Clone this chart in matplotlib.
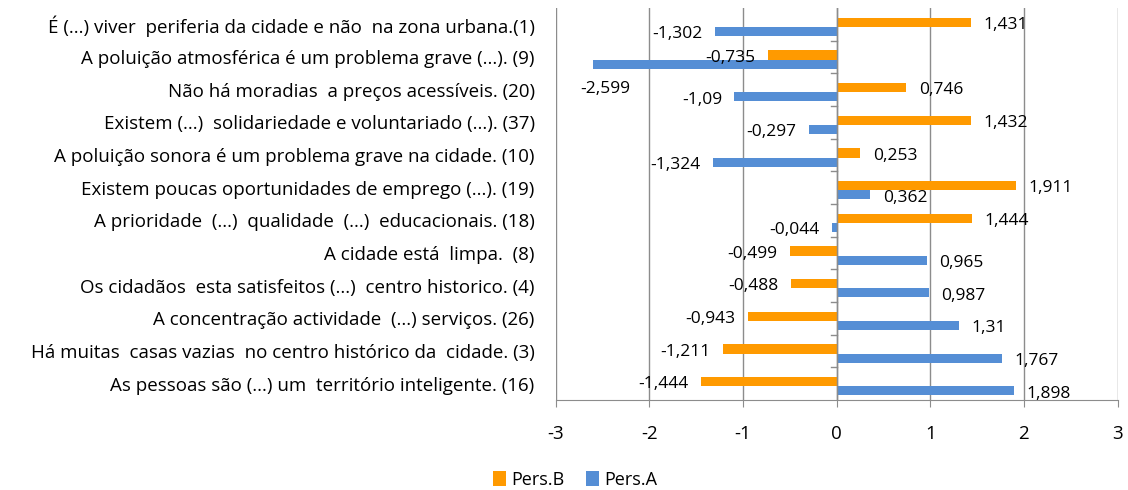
import numpy as np
import matplotlib.pyplot as plt

plt.rcParams['font.family'] = ['Open Sans', 'DejaVu Sans']

labels = [
    "É (...) viver  periferia da cidade e não  na zona urbana.(1)",
    "A poluição atmosférica é um problema grave (...). (9)",
    "Não há moradias  a preços acessíveis. (20)",
    "Existem (...)  solidariedade e voluntariado (...). (37)",
    "A poluição sonora é um problema grave na cidade. (10)",
    "Existem poucas oportunidades de emprego (...). (19)",
    "A prioridade  (...)  qualidade  (...)  educacionais. (18)",
    "A cidade está  limpa.  (8)",
    "Os cidadãos  esta satisfeitos (...)  centro historico. (4)",
    "A concentração actividade  (...) serviços. (26)",
    "Há muitas  casas vazias  no centro histórico da  cidade. (3)",
    "As pessoas são (...) um  território inteligente. (16)",
]
pers_b = [1.431, -0.735, 0.746, 1.432, 0.253, 1.911, 1.444, -0.499, -0.488, -0.943, -1.211, -1.444]
pers_a = [-1.302, -2.599, -1.09, -0.297, -1.324, 0.362, -0.044, 0.965, 0.987, 1.31, 1.767, 1.898]

orange = '#ff9a00'
blue = '#558ed5'
grid_c = '#8c8c8c'

fig = plt.figure(figsize=(11.28, 4.90), dpi=100)
ax = fig.add_axes([0.4925, 0.1837, 0.4982, 0.8])

y = np.arange(len(labels))
h = 0.28
ax.barh(y - h / 2 + 0.08, pers_b, height=h, color=orange, label='Pers.B', zorder=3)
ax.barh(y + h / 2 + 0.08, pers_a, height=h, color=blue, label='Pers.A', zorder=3)

ax.set_xlim(-3, 3)
ax.set_ylim(len(labels) - 0.5, -0.5)
ax.set_xticks(range(-3, 4))
ax.set_xticklabels([str(v) for v in range(-3, 4)], fontsize=13.5)
ax.tick_params(axis='x', length=5, color=grid_c, pad=13)
ax.set_yticks(y)
ax.set_yticklabels(labels, fontsize=13.5)
ax.tick_params(axis='y', length=0, pad=15)
ax.grid(axis='x', color=grid_c, linewidth=1, zorder=0)
for s in ['top', 'right', 'left']:
    ax.spines[s].set_visible(False)
ax.spines['bottom'].set_color(grid_c)
ax.axvline(0, color=grid_c, linewidth=1, zorder=4)
for b in np.arange(0.5, len(labels) - 0.5, 1):
    ax.plot([-0.06, 0], [b, b], color=grid_c, linewidth=1, zorder=4, clip_on=False)


def fmt(v):
    return ('%g' % v).replace('.', ',')


def put(vals, dy):
    for i, v in enumerate(vals):
        yy = i + dy
        if v < -2.5:
            ax.annotate(fmt(v), (-3, yy), xytext=(18, -18), textcoords='offset points',
                        ha='left', va='center', fontsize=12.5)
        elif v >= 0:
            ax.annotate(fmt(v), (v, yy), xytext=(9, -2), textcoords='offset points',
                        ha='left', va='center', fontsize=12.5)
        else:
            ax.annotate(fmt(v), (v, yy), xytext=(-9, -2), textcoords='offset points',
                        ha='right', va='center', fontsize=12.5)


put(pers_b, -h / 2 + 0.08)
put(pers_a, h / 2 + 0.08)

fig.legend(loc='center', bbox_to_anchor=(0.51, 0.02), ncol=2, frameon=False,
           fontsize=13, handlelength=0.7, handleheight=0.9, handletextpad=0.3,
           columnspacing=1.2)

fig.savefig('out.png', dpi=100)
